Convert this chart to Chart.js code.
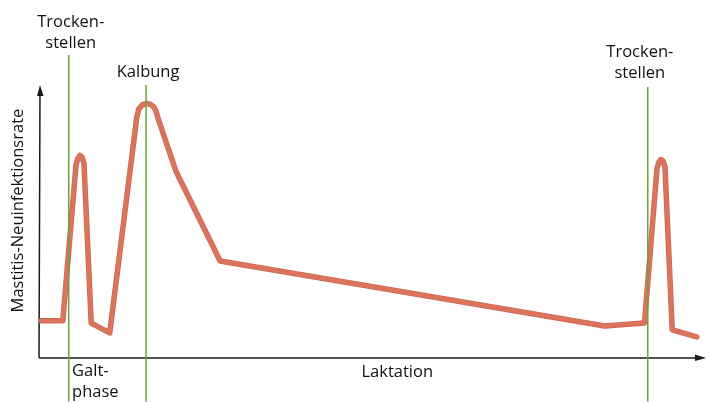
<!DOCTYPE html>
<html>
<head>
<meta charset="utf-8">
<script src="https://cdn.jsdelivr.net/npm/chart.js@4.4.1/dist/chart.umd.min.js"></script>
<style>
  html, body { margin: 0; padding: 0; background: #fff; }
</style>
</head>
<body>
<canvas id="chart" width="706" height="402"></canvas>
<script>
// Curve: position along the time axis (0-100) and relative new infection rate (0-100)
const curveX = [0.3, 3.6, 5.6, 5.9, 6.2, 6.5, 6.8, 7.9, 10.7, 14.8, 15.1, 15.6, 16.2, 16.8, 17.4, 17.7, 18.0, 20.7, 27.4, 85.6, 91.6, 93.5, 93.8, 94.1, 94.4, 94.7, 95.8, 99.5];
const curveY = [13.6, 13.6, 70.7, 73.3, 74.2, 73.6, 71.4, 12.8, 9.2, 88.3, 91.2, 92.7, 93.2, 93.0, 91.9, 90.4, 87.9, 68.5, 35.5, 11.7, 12.8, 69.6, 71.8, 72.7, 72.2, 70.0, 10.3, 7.7];

// Event markers (green vertical lines): drying off, calving, drying off
const eventX = [4.5, 16.2, 92.1];
const eventTop = [111, 100, 99.3];
const eventBottom = -16;

// Text labels, placed in axis units
const labelText = [['Trocken-', 'stellen'], ['Kalbung'], ['Trocken-', 'stellen'], ['Galt-', 'phase'], ['Laktation']];
const labelX = [4.8, 16.5, 90.9, 5.0, 54.2];
const labelY = [123.1, 104.8, 112.1, -4.8, -5.1];
const labelAlign = ['center', 'center', 'center', 'left', 'center'];
const yTitle = 'Mastitis-Neuinfektionsrate';

const FONT = '16.5px "Open Sans", sans-serif';
const TEXT_COLOR = '#111111';
const CURVE_EDGE = '#cd654f';
const CURVE_COLOR = '#db745d';
const EVENT_COLOR = '#6fa337';

const curveData = curveX.map((x, i) => ({ x: x, y: curveY[i] }));

// one dataset per green marker line
const eventSets = eventX.map((x, i) => ({
  data: [{ x: x, y: eventBottom }, { x: x, y: eventTop[i] }],
  borderColor: EVENT_COLOR,
  borderWidth: 1.5,
  pointRadius: 0,
  clip: false,
  order: 0
}));

// same curve twice: slightly darker edge below, fill on top
function curveSet(color, width, order) {
  return {
    data: curveData,
    borderColor: color,
    borderWidth: width,
    borderJoinStyle: 'round',
    borderCapStyle: 'round',
    pointRadius: 0,
    tension: 0,
    order: order
  };
}

// axes with arrow heads, drawn on the chart area edges
const axisPlugin = {
  id: 'axisArrows',
  beforeDatasetsDraw(chart) {
    const { ctx, chartArea } = chart;
    const left = chartArea.left, bottom = chartArea.bottom, top = chartArea.top;
    const right = chart.width;
    ctx.save();
    ctx.strokeStyle = '#1a1a1a';
    ctx.fillStyle = '#1a1a1a';
    ctx.lineWidth = 1.5;
    ctx.beginPath();
    ctx.moveTo(left, bottom);
    ctx.lineTo(left + 1, top + 4);
    ctx.moveTo(left, bottom);
    ctx.lineTo(right - 4, bottom);
    ctx.stroke();
    // y arrow
    ctx.beginPath();
    ctx.moveTo(left + 1, top);
    ctx.lineTo(left + 4.5, top + 11);
    ctx.lineTo(left - 2, top + 11);
    ctx.closePath();
    ctx.fill();
    // x arrow
    ctx.beginPath();
    ctx.moveTo(right, bottom);
    ctx.lineTo(right - 11, bottom - 3.5);
    ctx.lineTo(right - 11, bottom + 3);
    ctx.closePath();
    ctx.fill();
    ctx.restore();
  },
  afterDatasetsDraw(chart) {
    const { ctx, chartArea } = chart;
    const xs = chart.scales.x, ys = chart.scales.y;
    ctx.save();
    ctx.font = FONT;
    ctx.fillStyle = TEXT_COLOR;
    ctx.textBaseline = 'middle';
    labelText.forEach((lines, i) => {
      const px = xs.getPixelForValue(labelX[i]);
      const py = ys.getPixelForValue(labelY[i]);
      ctx.textAlign = labelAlign[i];
      lines.forEach((t, j) => ctx.fillText(t, px, py + j * 21));
    });
    // rotated y title
    ctx.translate(chartArea.left - 21, ys.getPixelForValue(54));
    ctx.rotate(-Math.PI / 2);
    ctx.textAlign = 'center';
    ctx.fillText(yTitle, 0, 0);
    ctx.restore();
  }
};

new Chart(document.getElementById('chart'), {
  type: 'line',
  data: {
    datasets: [
      ...eventSets,
      curveSet(CURVE_COLOR, 4, 1),
      curveSet(CURVE_EDGE, 5.5, 2)
    ]
  },
  options: {
    responsive: false,
    animation: false,
    layout: {
      padding: { left: 39, right: 6, top: 85, bottom: 44 }
    },
    scales: {
      x: { type: 'linear', min: 0, max: 100, display: false },
      y: { type: 'linear', min: 0, max: 100, display: false }
    },
    plugins: {
      legend: { display: false },
      tooltip: { enabled: false }
    }
  },
  plugins: [axisPlugin]
});
</script>
</body>
</html>
